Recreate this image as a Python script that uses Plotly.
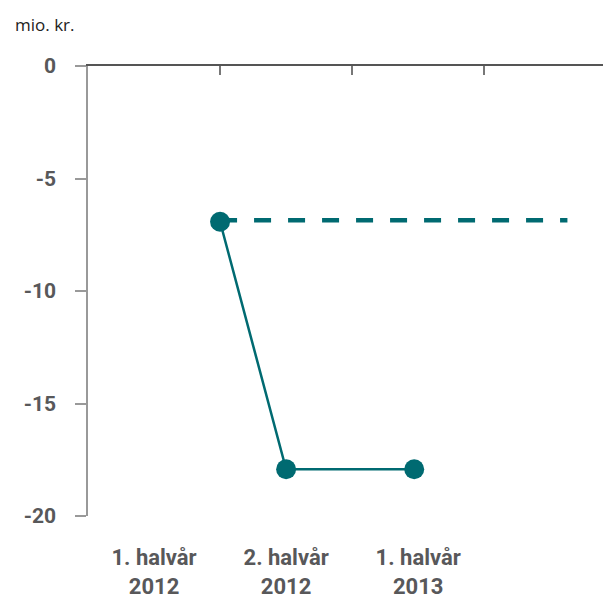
import plotly.graph_objects as go

categories = ["1. halvår<br>2012", "2. halvår<br>2012", "1. halvår<br>2013"]
cat_pos = [0, 1, 2]
boundaries = [0.5, 1.5, 2.5]

solid_x = [0.5, 1.0, 1.97]
solid_y = [-6.92, -17.92, -17.92]

dash_x = [0.5, 3.13]
dash_y = [-6.85, -6.85]

y_ticks = [0, -5, -10, -15, -20]

teal = "#006a71"
grey_txt = "#58585a"

fig = go.Figure()
fig.add_trace(go.Scatter(x=dash_x, y=dash_y, mode="lines",
                         line=dict(color=teal, width=4.5, dash="17px,17px"),
                         hoverinfo="skip", showlegend=False))
fig.add_trace(go.Scatter(x=solid_x, y=solid_y, mode="lines+markers",
                         line=dict(color=teal, width=2.5),
                         marker=dict(color=teal, size=20),
                         showlegend=False))
# dummy trace for top axis
fig.add_trace(go.Scatter(x=[None], y=[None], xaxis="x2", showlegend=False))

fig.update_layout(
    width=603, height=591,
    margin=dict(l=80, r=0, t=58, b=83, autoexpand=False),
    paper_bgcolor="white", plot_bgcolor="white",
    xaxis=dict(range=[-0.5, 3.46], tickvals=cat_pos, ticktext=categories,
               showline=False, showgrid=False, zeroline=False, ticks="",
               ticklabelstandoff=26, automargin=False,
               tickfont=dict(family="Roboto", size=22, color=grey_txt, weight="bold")),
    xaxis2=dict(range=[-0.5, 3.46], overlaying="x", side="top", tickvals=boundaries,
                showticklabels=False, ticks="inside", ticklen=9, tickwidth=1.5,
                tickcolor="#777", showline=True, linecolor="#555", linewidth=1.5,
                showgrid=False, zeroline=False, automargin=False),
    yaxis=dict(range=[-20, 0], tickvals=y_ticks, ticktext=[str(v) for v in y_ticks],
               showline=True, linecolor="#999", linewidth=1.5, ticks="outside",
               ticklen=11, tickwidth=1.5, tickcolor="#999", showgrid=False,
               zeroline=False, ticklabelstandoff=15, automargin=False,
               tickfont=dict(family="Roboto", size=21, color=grey_txt, weight="bold")),
)
fig.add_annotation(text="mio. kr.", xref="paper", yref="paper",
                   x=-75/523, y=1 + 41/450, xanchor="left", yanchor="middle",
                   showarrow=False,
                   font=dict(family="Open Sans", size=17, color="#222"))

fig.write_html("out.html")
